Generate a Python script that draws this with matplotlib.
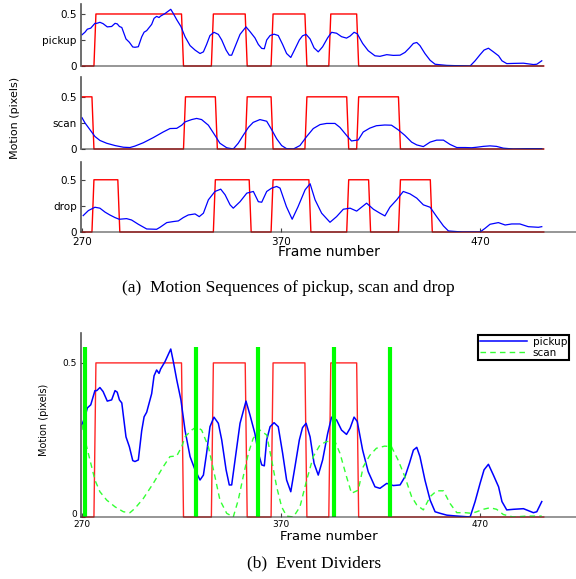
import numpy as np
import matplotlib
matplotlib.use("Agg")
import matplotlib.pyplot as plt

# ---- data ----
pickup_frames = [270, 271.5, 272.7, 274.4, 276.5, 277.4, 279, 280.6, 282.7, 284.9,
                 286.6, 287.7, 288.8, 290, 292.1, 293.8, 295.5, 296.6, 298.3, 300,
                 301.2, 302.5, 305, 306.2, 307.5, 308.7, 309.5, 311.7, 313.4, 314.6,
                 315.9, 317.6, 319.7, 321.8, 324.3, 326.8, 329.3, 331, 332.6, 334.3,
                 336.3, 338.5, 340.2, 342.4, 344, 345.2, 346.9, 349.4, 352.4, 354.4,
                 356.9, 358.6, 360.3, 361.6, 362.8, 364.5, 366.5, 368.6, 370.8, 372.8,
                 374.9, 377, 379.2, 380.8, 382.6, 384.6, 386.6, 388.7, 390.9, 393.4,
                 395.4, 397.9, 400.4, 402.9, 404.7, 406.7, 408.3, 411, 413.8, 417.2,
                 419.7, 423.1, 426.4, 429.8, 432.3, 434.5, 436.5, 438.2, 439.8, 442.3,
                 444.9, 447.4, 449.9, 453.3, 456.6, 465, 467.5, 470, 472, 474.2,
                 476.7, 479.3, 481, 483.4, 486.8, 491.8, 496.8, 498.5, 501]
pickup = [0.30, 0.325, 0.354, 0.364, 0.41, 0.41, 0.42, 0.407, 0.376, 0.38,
          0.41, 0.405, 0.38, 0.37, 0.26, 0.228, 0.183, 0.18, 0.185, 0.28,
          0.325, 0.34, 0.40, 0.458, 0.477, 0.466, 0.48, 0.504, 0.528, 0.545,
          0.504, 0.445, 0.38, 0.28, 0.196, 0.153, 0.12, 0.136, 0.207, 0.293,
          0.324, 0.304, 0.25, 0.153, 0.104, 0.104, 0.185, 0.304, 0.376, 0.331,
          0.27, 0.207, 0.169, 0.166, 0.25, 0.293, 0.306, 0.293, 0.207, 0.12,
          0.082, 0.163, 0.25, 0.29, 0.304, 0.26, 0.174, 0.136, 0.185, 0.27,
          0.324, 0.315, 0.282, 0.268, 0.288, 0.324, 0.31, 0.217, 0.147, 0.098,
          0.093, 0.109, 0.102, 0.104, 0.131, 0.174, 0.217, 0.226, 0.196, 0.12,
          0.055, 0.017, 0.012, 0.006, 0.004, 0.0, 0.05, 0.109, 0.153, 0.171,
          0.136, 0.098, 0.05, 0.023, 0.025, 0.027, 0.014, 0.017, 0.05]

scan_frames = [270, 271.5, 274, 276.5, 279, 282.4, 286.6, 290.8, 294.1, 296.6,
               300.8, 305.8, 310.8, 314.2, 317.6, 320.1, 321.8, 325.1, 327.6, 330.1,
               333.5, 336.8, 339.3, 342.7, 346, 348.5, 351, 353.6, 356, 359.4,
               362.8, 365.3, 367.8, 370.3, 372.8, 376.2, 379.5, 382.9, 386.2, 389.6,
               392.9, 397.1, 399.6, 402.9, 405.4, 408.8, 411.3, 414.6, 417.9, 422.1,
               425.5, 428.8, 432.2, 435.6, 438.2, 441.5, 444.9, 448.2, 451.6, 454.9,
               458.3, 462.5, 465.8, 468.3, 471.6, 475, 478.3, 481.7, 486.7, 493.4, 501]
scan = [0.30, 0.25, 0.185, 0.12, 0.082, 0.055, 0.033, 0.017, 0.014, 0.028,
        0.06, 0.109, 0.163, 0.196, 0.198, 0.228, 0.26, 0.282, 0.293, 0.282,
        0.228, 0.131, 0.055, 0.012, 0.0, 0.055, 0.131, 0.207, 0.255, 0.282,
        0.266, 0.185, 0.098, 0.033, 0.003, 0.0, 0.033, 0.12, 0.196, 0.234,
        0.245, 0.245, 0.207, 0.131, 0.077, 0.087, 0.163, 0.2, 0.223, 0.23,
        0.228, 0.185, 0.131, 0.066, 0.039, 0.023, 0.066, 0.085, 0.085, 0.044,
        0.014, 0.014, 0.012, 0.017, 0.025, 0.03, 0.025, 0.008, 0.0, 0.003, 0.003]

drop_frames = [270.6, 273.2, 276.5, 279, 281.6, 284, 286.6, 288.7, 292.4, 294.9,
               298.3, 302.5, 307.5, 309.2, 312.6, 315.9, 318.4, 320.9, 323.4, 326.8,
               328.9, 331, 333.5, 336.8, 339.7, 341.9, 344.4, 346, 349.4, 352.8,
               356.1, 358.6, 360.3, 362.8, 365.3, 367.8, 369.5, 372.7, 375.6, 378.5,
               382.1, 384.6, 387.1, 390.4, 394.6, 397.9, 401.3, 404.7, 408, 413,
               416.4, 419.7, 422.2, 424.7, 428.1, 431.4, 434.8, 438.2, 441.5, 444.9,
               448.2, 451.6, 454.1, 461, 470, 472.5, 475, 479.2, 482.6, 485.9,
               490, 494.2, 499.3, 501]
drop = [0.157, 0.205, 0.237, 0.228, 0.19, 0.163, 0.138, 0.122, 0.128, 0.115,
        0.074, 0.029, 0.026, 0.045, 0.09, 0.1, 0.106, 0.138, 0.163, 0.173,
        0.147, 0.18, 0.308, 0.388, 0.41, 0.356, 0.26, 0.228, 0.29, 0.372,
        0.388, 0.29, 0.285, 0.388, 0.42, 0.436, 0.42, 0.243, 0.122, 0.24,
        0.404, 0.462, 0.308, 0.18, 0.093, 0.147, 0.218, 0.228, 0.2, 0.276,
        0.218, 0.18, 0.154, 0.237, 0.308, 0.388, 0.365, 0.324, 0.26, 0.237,
        0.147, 0.058, 0.01, 0.0, 0.0, 0.035, 0.074, 0.09, 0.067, 0.077,
        0.077, 0.051, 0.045, 0.051]

# labelled segments (first frame, last frame) for each activity
pickup_segments = [(277, 320), (336, 352), (366, 382), (395, 408)]
scan_segments = [(270, 275), (322, 337), (353, 365), (383, 403), (409, 429)]
drop_segments = [(276, 288), (337, 354), (366, 384), (404, 414), (430, 445)]
segment_level = 0.5
frame_range = (270, 502)

divider_frames = [271.5, 327.5, 358.5, 396.5, 424.5]
divider_height = 0.55

x_ticks = [270, 370, 470]

W, H = 576, 579
FRAME_COL = (0.2, 0.2, 0.2, 0.6)


def segment_signal(segments):
    f = np.arange(frame_range[0], frame_range[1] + 1)
    on = np.zeros(len(f), dtype=bool)
    for a, b in segments:
        on |= (f >= a) & (f <= b)
    return f, np.where(on, segment_level, 0.0)


def add_axes_px(fig, left, top, right, bottom):
    return fig.add_axes([left / W, 1 - bottom / H, (right - left) / W, (bottom - top) / H])


def style_axes(ax, ymax, show_bottom):
    ax.set_xlim(269.5, 518.2)
    ax.set_ylim(0, ymax)
    for s in ("top", "right"):
        ax.spines[s].set_visible(False)
    ax.spines["left"].set_color("#555555")
    ax.spines["left"].set_linewidth(1.2)
    ax.spines["bottom"].set_visible(show_bottom)
    ax.spines["bottom"].set_color(FRAME_COL)
    ax.spines["bottom"].set_linewidth(1.2)
    ax.tick_params(direction="in", length=3, width=0.8, color="#444444",
                   labelsize=7.5, pad=3)
    ax.tick_params(axis="x", pad=3.5)
    ax.patch.set_alpha(0)


fig = plt.figure(figsize=(W / 100, H / 100), dpi=100)

# ---- (a) three stacked sequences ----
top_rows = [
    ("pickup", pickup_frames, pickup, pickup_segments, (4, 66), 0.596),
    ("scan", scan_frames, scan, scan_segments, (77, 149), 0.69),
    ("drop", drop_frames, drop, drop_segments, (162, 232), 0.67),
]
for i, (name, fr, vals, segs, (t, b), ymax) in enumerate(top_rows):
    last = i == len(top_rows) - 1
    ax = add_axes_px(fig, 81, t, 576, b)
    style_axes(ax, ymax, last)
    sf, sv = segment_signal(segs)
    ax.plot(sf, sv, color="red", lw=1.0, clip_on=False)
    ax.plot(fr, vals, color="blue", lw=0.9)
    if not last:
        ax.hlines(0, *frame_range, color=FRAME_COL, lw=1.2, clip_on=False)
        ax.set_xticks([])
    else:
        ax.set_xticks(x_ticks)
        ax.set_xlabel("Frame number", fontsize=10, labelpad=-1)
    ax.set_yticks([0, 0.25, 0.5])
    ax.set_yticklabels(["0", name, "0.5"])

fig.text(15 / W, 1 - 118 / H, "Motion (pixels)", rotation=90, ha="center",
         va="center", fontsize=8)
fig.text(288 / W, 1 - 288 / H, "(a)  Motion Sequences of pickup, scan and drop",
         ha="center", va="center", fontsize=12.5, family="Liberation Serif")

# ---- (b) event dividers ----
ax = add_axes_px(fig, 81, 333, 576, 517)
style_axes(ax, 0.597, True)
sf, sv = segment_signal(pickup_segments)
ax.plot(sf, sv, color="red", lw=1.0, alpha=0.85, clip_on=False)
ax.plot(pickup_frames, pickup, color="blue", lw=1.1, label="pickup")
ax.plot(scan_frames, scan, color="#33ff33", lw=1.0, dashes=(4, 3), label="scan")
ax.vlines(divider_frames, 0, divider_height, color="#00ff00", lw=3)
ax.set_xticks(x_ticks)
ax.set_yticks([0, 0.5])
ax.set_yticklabels(["0", "0.5"])
ax.tick_params(labelsize=6.5, pad=3)
ax.tick_params(axis="x", pad=2.5)
ax.get_yticklabels()[0].set_va("baseline")
ax.set_xlabel("Frame number", fontsize=9.5, labelpad=0.5)
leg = ax.legend(loc="upper right", bbox_to_anchor=(569 / W, 1 - 335 / H),
                bbox_transform=fig.transFigure, fontsize=7.5, fancybox=False,
                edgecolor="black", borderpad=0.2, labelspacing=0.05,
                handlelength=4.5, handletextpad=0.5, borderaxespad=0,
                framealpha=1)
leg.get_frame().set_linewidth(1.5)

fig.text(44 / W, 1 - 420 / H, "Motion (pixels)", rotation=90, ha="center",
         va="center", fontsize=7)
fig.text(314 / W, 1 - 563 / H, "(b)  Event Dividers", ha="center", va="center",
         fontsize=12.5, family="Liberation Serif")

fig.savefig("out.png", dpi=100)
